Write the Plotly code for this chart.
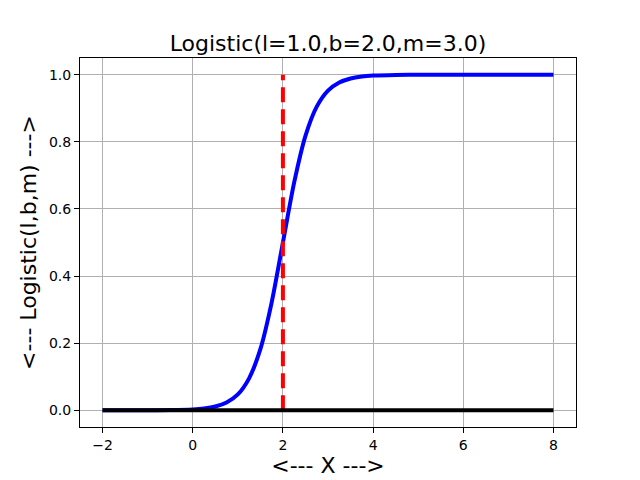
import plotly.graph_objects as go

# Data
curve_x = [-2.0, -1.0, -0.5, 0.0, 0.25, 0.5, 0.75, 1.0, 1.25, 1.5, 1.75, 2.0,
           2.25, 2.5, 2.75, 3.0, 3.25, 3.5, 3.75, 4.0, 4.5, 5.0, 6.0, 7.0, 8.0]
curve_y = [0.0, 0.0001, 0.0006, 0.0025, 0.0052, 0.011, 0.023, 0.047, 0.095, 0.182,
           0.321, 0.5, 0.679, 0.818, 0.905, 0.953, 0.977, 0.989, 0.9948, 0.9975,
           0.9994, 0.9999, 1.0, 1.0, 1.0]
mean_x = [2.0, 2.0]
mean_y = [0.0, 1.0]
base_x = [-2.0, 8.0]
base_y = [0.0, 0.0]

x_ticks = [-2, 0, 2, 4, 6, 8]
x_tick_text = ["\u22122", "0", "2", "4", "6", "8"]
y_ticks = [0.0, 0.2, 0.4, 0.6, 0.8, 1.0]

fig = go.Figure()
fig.add_trace(go.Scatter(x=curve_x, y=curve_y, mode="lines",
                         line=dict(color="#0000ff", width=4, shape="spline", smoothing=0.8)))
fig.add_trace(go.Scatter(x=mean_x, y=mean_y, mode="lines",
                         line=dict(color="#ff0000", width=4, dash="15px,7px")))
fig.add_trace(go.Scatter(x=base_x, y=base_y, mode="lines",
                         line=dict(color="#000000", width=4)))

axis_common = dict(showline=True, linecolor="black", linewidth=1, mirror=True,
                   ticks="outside", ticklen=5, tickcolor="black", tickwidth=1,
                   showgrid=True, gridcolor="#b0b0b0", gridwidth=1, zeroline=False,
                   tickfont=dict(size=14, color="black"))

fig.update_layout(
    width=640, height=480, autosize=False,
    margin=dict(l=80, r=64, t=58, b=53, autoexpand=False),
    paper_bgcolor="white", plot_bgcolor="white",
    font=dict(family="DejaVu Sans", color="black"),
    showlegend=False,
    hovermode=False,
    title=dict(text="Logistic(l=1.0,b=2.0,m=3.0)", x=0.5, xref="paper",
               y=1, yref="paper", yanchor="bottom", xanchor="center",
               pad=dict(b=7), font=dict(size=22, color="black")),
    xaxis=dict(range=[-2.5, 8.5], tickvals=x_ticks, ticktext=x_tick_text,
               title=dict(text="<--- X --->", font=dict(size=22), standoff=3),
               **axis_common),
    yaxis=dict(range=[-0.05, 1.05], tickvals=y_ticks, tickformat=".1f",
               title=dict(text="<--- Logistic(l,b,m) --->", font=dict(size=22), standoff=6),
               **axis_common),
)

fig.write_html("out.html", config={"displayModeBar": False},
               post_script="document.body.style.margin='0';document.body.style.overflow='hidden';")
